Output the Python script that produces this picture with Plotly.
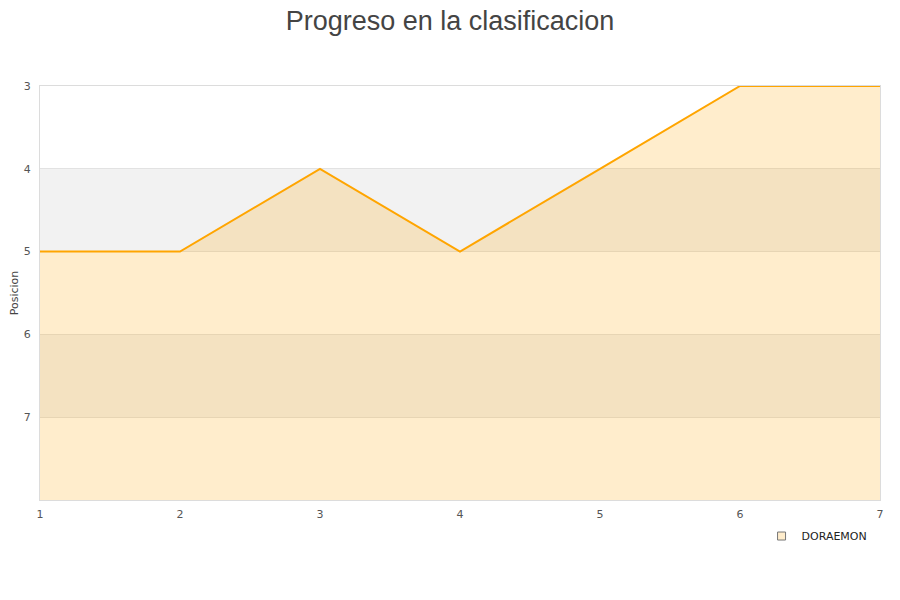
import plotly.graph_objects as go

jornadas = [1, 2, 3, 4, 5, 6, 7]
posiciones = [5, 5, 4, 5, 4, 3, 3]
serie = "DORAEMON"
y_ticks = [3, 4, 5, 6, 7]
y_bottom = 8
y_top = 3
bands = [(4, 5), (6, 7)]

fig = go.Figure()
fig.add_trace(go.Scatter(x=jornadas, y=[y_bottom] * len(jornadas), mode="lines",
                         line=dict(width=0, color="rgba(0,0,0,0)"), showlegend=False,
                         hoverinfo="skip"))
fig.add_trace(go.Scatter(x=jornadas, y=posiciones, mode="lines", fill="tonexty",
                         fillcolor="rgba(255,165,0,0.2)",
                         line=dict(color="#ffa500", width=2), showlegend=False, name=serie))
fig.add_trace(go.Scatter(x=[None], y=[None], mode="markers", name=serie,
                         marker=dict(symbol="square", size=8, color="rgba(255,165,0,0.2)",
                                     line=dict(color="#777", width=1))))

for a, b in bands:
    fig.add_shape(type="rect", xref="paper", x0=0, x1=1, yref="y", y0=a, y1=b,
                  fillcolor="#f2f2f2", line=dict(width=0), layer="below")

fig.update_layout(
    width=900, height=600,
    margin=dict(l=32, r=28, t=78, b=108, autoexpand=False),
    paper_bgcolor="white", plot_bgcolor="white",
    title=dict(text="Progreso en la clasificacion", x=(450 - 8) / 900, xanchor="center",
               y=1 - 3 / 600, yref="container", yanchor="top", automargin=False,
               pad=dict(t=0, b=0),
               font=dict(family="Liberation Sans, Arial", size=27, color="#444")),
    font=dict(family="DejaVu Sans", size=11, color="#555"),
    showlegend=True,
    legend=dict(orientation="h", x=0.859, xanchor="left", y=-0.087, yanchor="middle",
                font=dict(family="DejaVu Sans", size=11, color="#222"),
                bgcolor="rgba(0,0,0,0)"),
    xaxis=dict(range=[1, 7], tickvals=jornadas, showgrid=False, zeroline=False,
               showline=True, mirror=True, linecolor="#dcdcdc", linewidth=1,
               ticks="", automargin=False, ticklabelstandoff=4,
               tickfont=dict(size=11, color="#555")),
    yaxis=dict(range=[y_bottom, y_top], tickvals=y_ticks, showgrid=True,
               gridcolor="#e2e2e2", zeroline=False, showline=True, mirror=True,
               linecolor="#dcdcdc", linewidth=1, ticks="", automargin=False,
               ticklabelstandoff=6,
               title=dict(text="Posicion", font=dict(size=11, color="#444"), standoff=8),
               tickfont=dict(size=11, color="#555")),
)

fig.write_html("out.html")
